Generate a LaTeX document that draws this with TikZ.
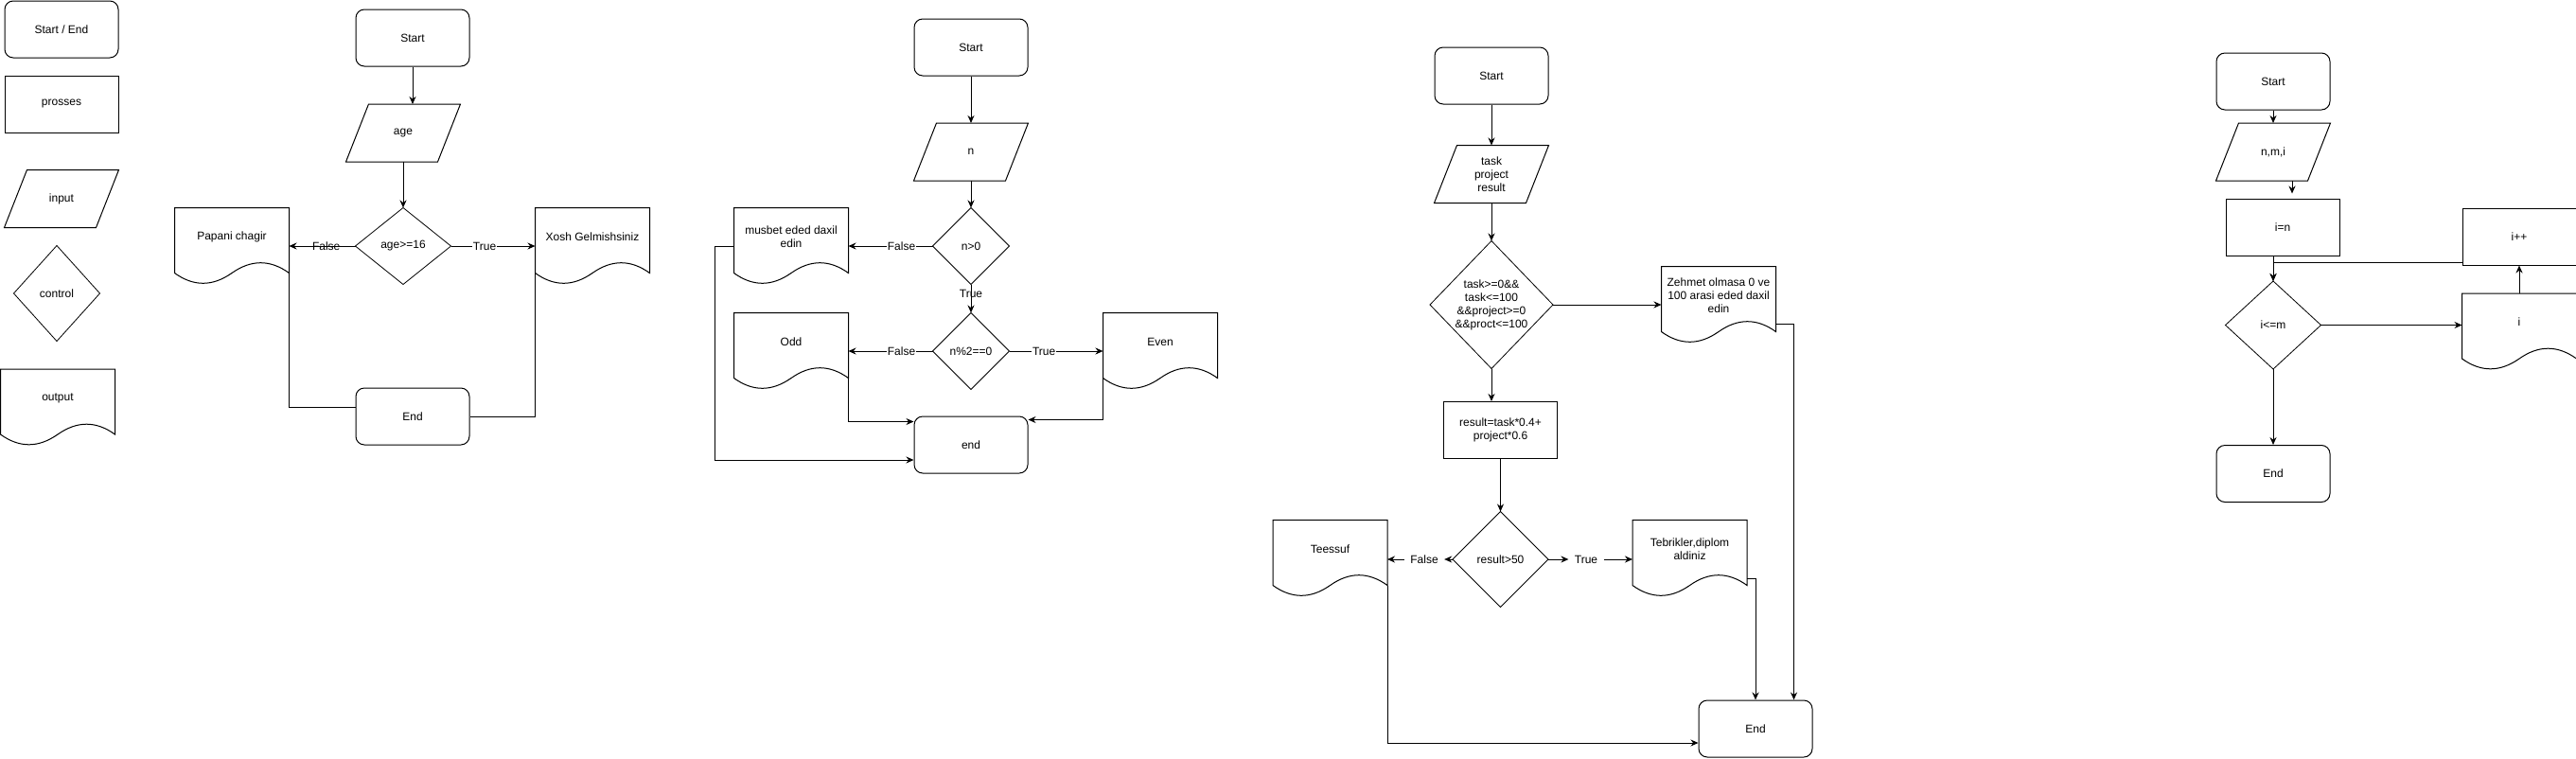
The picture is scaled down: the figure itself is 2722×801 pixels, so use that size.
\documentclass[tikz,border=0pt]{standalone}
\usepackage{fontspec}
\setmainfont{Liberation Sans}
\usepackage{tikz}
\usetikzlibrary{calc}
\usetikzlibrary{arrows.meta}

\tikzset{
    every node/.style={font=\fontsize{12}{14}\selectfont, align=center, inner sep=0pt},
    termbox/.style={draw, rounded corners=9pt, minimum width=120pt, minimum height=60pt},
    procbox/.style={draw, minimum width=120pt, minimum height=60pt},
    inbox/.style={minimum width=120pt, minimum height=60pt},
    condbox/.style 2 args={minimum width=#1, minimum height=#2},
    docbox/.style={minimum width=120pt, minimum height=60pt},
    lbl/.style={fill=white, inner sep=1pt},
    sidelbl/.style={inner sep=6pt}
}

\begin{document}
\begin{tikzpicture}[x=1pt, y=-1pt, line width=1pt, >={Stealth[length=8pt,width=7pt]}]
    \useasboundingbox (0,0) rectangle (2722,801);

    \node[termbox] (lgse) at (65,31) {Start / End};
    \node[procbox] (lgpr) at (65,110) {prosses};
    \node[inbox] (lgin) at (65,210) {input};
    \node[condbox={90pt}{100pt}] (lgco) at (60,310) {control};
    \node[docbox] (lgout) at (61,420.5) {output};

    \node[termbox] (s1) at (436,40) {Start};
    \node[inbox] (age) at (426,140.5) {age};
    \node[condbox={100pt}{80pt}] (chk1) at (426,260) {age>=16};
    \node[docbox] (pap) at (245,250) {Papani chagir};
    \node[docbox] (xosh) at (626,250) {Xosh Gelmishsiniz};
    \node[termbox] (e1) at (436,440) {End};

    \draw[->] (s1) -- (s1 |- age.north);
    \draw[->] (age) -- (chk1);
    \draw[->] (chk1) -- (chk1 -| pap.east) node[lbl, fill=none, pos=0.44] (f1) {False};
    \draw[->] (chk1) -- (chk1 -| xosh.west) node[lbl, pos=0.4] (t1) {True};
    \draw ($(pap.south east)+(0,8)$) |- ($(e1.west)+(0,-10)$);
    \draw ($(xosh.south west)+(0,8)$) |- (e1.east);

    \node[termbox] (s2) at (1026,50) {Start};
    \node[inbox] (inn) at (1026,160.5) {n};
    \node[condbox={80pt}{80pt}] (posi) at (1026,260) {n>0};
    \node[docbox] (musb) at (836,250) {musbet eded daxil\\edin};
    \node[condbox={80pt}{80pt}] (parity) at (1026,371) {n\%2==0};
    \node[docbox] (odd) at (836,361) {Odd};
    \node[docbox] (even) at (1226,361) {Even};
    \node[termbox] (e2) at (1026,470) {end};

    \draw[->] (s2) -- (inn);
    \draw[->] (inn) -- (posi);
    \draw[->] (posi) -- (posi -| musb.east) node[lbl, pos=0.37] (f2) {False};
    \draw[->] (posi) -- (parity) node[lbl, fill=none, pos=0.32] (t2) {True};
    \draw[->] (parity) -- (parity -| odd.east) node[lbl, pos=0.37] (f3) {False};
    \draw[->] (parity) -- (parity -| even.west) node[lbl, pos=0.37] (t3) {True};
    \draw[->] ($(odd.south east)+(0,8)$) |- ($(e2.north west)+(0,6)$);
    \draw[->] ($(even.south west)+(0,8)$) |- ($(e2.north east)+(0,4)$);
    \draw[->] (posi -| musb.west) -- ++(-20,0) |- ($(e2.west)+(0,16)$);

    \node[termbox] (s3) at (1576,80) {Start};
    \node[inbox] (inp3) at (1576,184) {task\\project\\result};
    \node[condbox={129pt}{134pt}] (rng) at (1576,322) {task>=0\&\&\\task<=100\\\&\&project>=0\\\&\&proct<=100};
    \node[docbox] (zeh) at (1816,312) {Zehmet olmasa 0 ve\\100 arasi eded daxil\\edin};
    \node[procbox] (res) at (1585.5,454.5) {result=task*0.4+\\project*0.6};
    \node[condbox={100pt}{100pt}] (cmp) at (1585.5,591) {result>50};
    \node[docbox] (tee) at (1405.5,580) {Teessuf};
    \node[docbox] (teb) at (1785.5,580) {Tebrikler,diplom\\aldiniz};
    \node[termbox] (e3) at (1855,770) {End};
    \node[sidelbl] (f4) at (1505,591) {False};
    \node[sidelbl] (t4) at (1676,591) {True};

    \draw[->] (s3) -- (inp3);
    \draw[->] (inp3) -- (rng);
    \draw[->] (rng) -- (rng -| zeh.west);
    \draw[->] (rng.south) -- (rng.south |- res.north);
    \draw[->] (res) -- (cmp);
    \draw[->] (cmp) -- (f4);
    \draw[->] (f4) -- (f4 -| tee.east);
    \draw[->] (cmp) -- (t4);
    \draw[->] (t4) -- (t4 -| teb.west);
    \draw[->] ($(teb.south east)+(0,1)$) -| (e3.north);
    \draw[->] (zeh.south east) -| ($(e3.north east)+(-20,0)$);
    \draw[->] ($(tee.south east)+(0,8)$) |- ($(e3.west)+(0,15)$);

    \node[termbox] (s4) at (2402,86) {Start};
    \node[inbox] (inp4) at (2402,160.5) {n,m,i};
    \node[procbox] (init) at (2412,240) {i=n};
    \node[condbox={100pt}{92pt}] (whl) at (2402,343.5) {i<=m};
    \node[termbox] (e4) at (2402,500.5) {End};
    \node[docbox] (prt) at (2662,340.5) {i};
    \node[procbox] (inc) at (2662,250) {i++};

    \draw[->] (s4) -- (inp4);
    \draw[->] ($(inp4.south)+(20,0)$) -- ($(init.north)+(10,-5)$);
    \draw[->] (init.south -| whl.north) -- (whl.north);
    \draw[->] ($(inc.south west)+(0,-3.5)$) -| (whl.north);
    \draw[->] (whl) -- (whl -| prt.west);
    \draw[->] (prt.north) -- (inc.south);
    \draw[->] (whl) -- (e4);

    \foreach \n in {lgin,age,inn,inp3,inp4}
        \draw (\n.south west) -- ($(\n.north west)+(24,0)$) -- (\n.north east) -- ($(\n.south east)+(-24,0)$) -- cycle;
    \foreach \n in {lgco,chk1,posi,parity,rng,cmp,whl}
        \draw[line width=0.8pt] (\n.north) -- (\n.east) -- (\n.south) -- (\n.west) -- cycle;
    \foreach \n in {lgout,pap,xosh,musb,odd,even,zeh,tee,teb,prt}
        \draw (\n.north west) -- (\n.north east) -- ($(\n.south east)+(0,8)$)
            .. controls ($(\n.south east)+(-20,-6.4)$) and ($(\n.south east)+(-40,-6.4)$) .. ($(\n.south)+(0,8)$)
            .. controls ($(\n.south west)+(40,22.4)$) and ($(\n.south west)+(20,22.4)$) .. ($(\n.south west)+(0,8)$) -- cycle;
\end{tikzpicture}
\end{document}
